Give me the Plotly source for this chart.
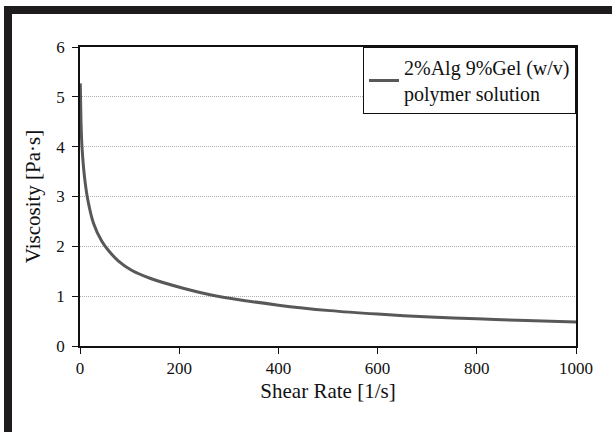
import plotly.graph_objects as go

shear_rate = [0.5, 2, 4, 9, 16, 27, 44, 57, 77, 104, 141, 208, 272, 400, 504, 600, 706, 800, 900, 1000]
viscosity = [5.27, 4.5, 4.0, 3.4, 2.92, 2.47, 2.1, 1.92, 1.71, 1.52, 1.36, 1.16, 1.01, 0.82, 0.71, 0.64, 0.58, 0.545, 0.51, 0.48]
series_name = "2%Alg 9%Gel (w/v)<br>polymer solution"
x_ticks = [0, 200, 400, 600, 800, 1000]
y_ticks = [0, 1, 2, 3, 4, 5, 6]

FONT = "Liberation Serif"

fig = go.Figure()
fig.add_trace(go.Scatter(
    x=shear_rate, y=viscosity, mode="lines", name=series_name,
    line=dict(color="#585858", width=3, shape="spline", smoothing=0.6),
    showlegend=True,
))

L, R, T, B = 80, 36, 47, 86
W, H = 612, 432
pw, ph = W - L - R, H - T - B

def px(xp):
    return (xp - L) / pw

def py(yp):
    return (H - B - yp) / ph

border = "#1e1c1d"
fig.add_shape(type="rect", xref="paper", yref="paper",
              x0=px(4), x1=px(12), y0=py(440), y1=py(6),
              fillcolor=border, line_width=0, layer="above")
fig.add_shape(type="rect", xref="paper", yref="paper",
              x0=px(4), x1=px(620), y0=py(14), y1=py(6),
              fillcolor=border, line_width=0, layer="above")

fig.update_layout(
    width=W, height=H,
    margin=dict(l=L, r=R, t=T, b=B),
    paper_bgcolor="white", plot_bgcolor="white",
    font=dict(family=FONT, color="#111111", size=17),
    legend=dict(x=1, y=1, xanchor="right", yanchor="top",
                bordercolor="#111111", borderwidth=1, bgcolor="white",
                font=dict(size=20, family=FONT, color="#111111"), tracegroupgap=0),
    xaxis=dict(range=[0, 1000], tickvals=x_ticks, ticks="outside", ticklen=6,
               tickcolor="#111111", showline=True, linecolor="#111111", linewidth=1.5,
               mirror=True, showgrid=False, zeroline=False,
               title=dict(text="Shear Rate [1/s]", font=dict(size=21, family=FONT), standoff=6),
               tickfont=dict(size=17, family=FONT)),
    yaxis=dict(range=[0, 6], tickvals=y_ticks, ticks="outside", ticklen=6,
               tickcolor="#111111", showline=True, linecolor="#111111", linewidth=1.5,
               mirror=True, showgrid=True, gridcolor="#b0b0b0", griddash="1px,1px",
               gridwidth=1, zeroline=False, ticklabelstandoff=4,
               title=dict(text="Viscosity [Pa·s]", font=dict(size=21, family=FONT), standoff=10),
               tickfont=dict(size=17, family=FONT)),
)

fig.write_html("out.html", config={"displayModeBar": False},
               post_script="document.body.style.margin='0';")
